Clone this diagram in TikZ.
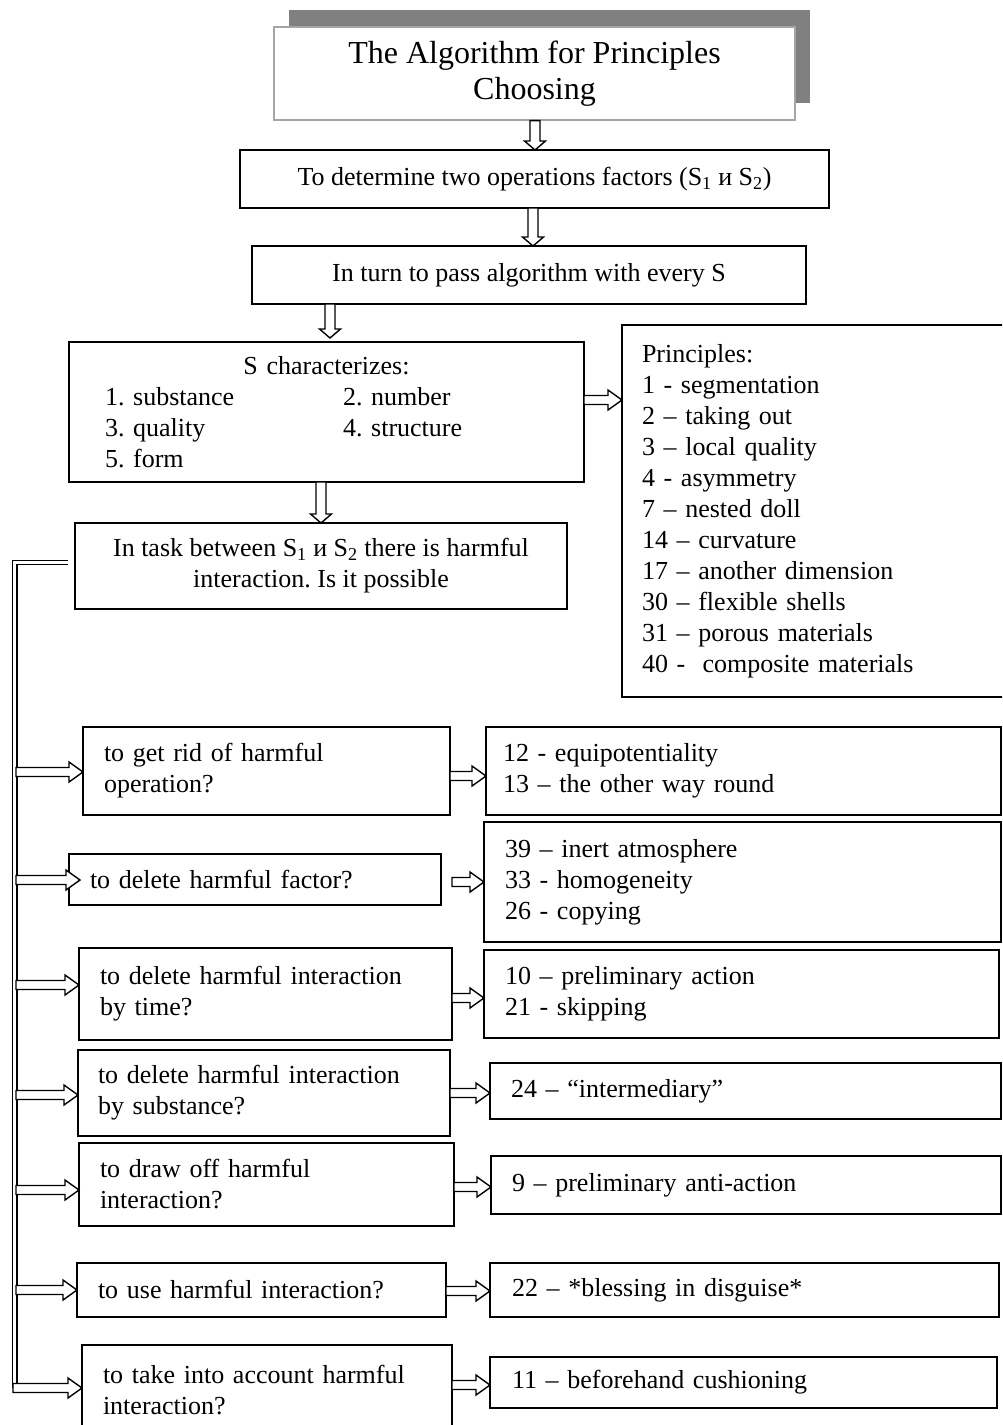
\documentclass[tikz,border=0pt]{standalone}
\usepackage{fontspec}
\setmainfont{Liberation Serif}
\usetikzlibrary{calc}
\frenchspacing
\definecolor{shadowgray}{RGB}{128,128,128}
\definecolor{titleline}{RGB}{165,165,165}
\newcommand\harr[2]{%
  \draw[blockarrow] let \p1=(#1), \p2=(#2) in
   (\x1,\y1+4.5pt) -- (\x2-14pt,\y1+4.5pt) -- (\x2-14pt,\y1+10pt) -- (\x2,\y1)
   -- (\x2-14pt,\y1-10pt) -- (\x2-14pt,\y1-4.5pt) -- (\x1,\y1-4.5pt) -- cycle;}
\newcommand\varr[2]{%
  \draw[blockarrow] let \p1=(#1), \p2=(#2) in
   (\x1-5pt,\y1) -- (\x1-5pt,\y2+9pt) -- (\x1-10.5pt,\y2+9pt) -- (\x1,\y2)
   -- (\x1+10.5pt,\y2+9pt) -- (\x1+5pt,\y2+9pt) -- (\x1+5pt,\y1) -- cycle;}
\begin{document}
\begin{tikzpicture}[x=1pt,y=-1pt,
  box/.style={draw=black, line width=1.5pt, inner ysep=0pt, outer sep=0pt,
    font=\fontsize{26}{31}\selectfont},
  lbox/.style={box, align=left},
  cbox/.style={box, align=center, inner xsep=0pt},
  blockarrow/.style={draw=black, fill=white, line width=1.4pt, line join=miter},
  spine/.style={draw=black, line width=1.3pt, double=white, double distance=2.8pt}]
\useasboundingbox (0,0) rectangle (1002,1425);
\clip (0,0) rectangle (1002,1425);

% title with shadow
\node[fill=shadowgray, inner sep=0pt, minimum width=521pt, minimum height=93pt] (shadow) at (549.5,56.5) {};
\node[draw=titleline, fill=white, line width=1.3pt, inner sep=0pt, align=center,
  minimum width=521pt, minimum height=93pt, font=\fontsize{32}{36}\selectfont] (title) at (534.5,73.5)
  {The Algorithm for Principles\\Choosing};

\node[cbox, minimum width=589pt, minimum height=58pt] (det) at (534.5,179)
  {To determine two operations factors (S\textsubscript{1} и S\textsubscript{2})};
\node[cbox, minimum width=554pt, minimum height=58pt] (pass) at (529,275)
  {In turn to pass algorithm with every S};
\node[lbox, minimum height=140pt, text width=443pt, inner xsep=36pt] (sc) at (326.5,412)
  {\makebox[\linewidth][c]{S characterizes:}\\
   \makebox[238pt][l]{1. substance}2. number\\
   \makebox[238pt][l]{3. quality}4. structure\\
   5. form};
\node[lbox, minimum height=372pt, text width=348pt, inner xsep=20pt] (pr) at (816,511)
  {Principles:\\1 - segmentation\\2 – taking out\\3 – local quality\\4 - asymmetry\\
   7 – nested doll\\14 – curvature\\17 – another dimension\\30 – flexible shells\\
   31 – porous materials\\40 -~ composite materials};
\node[cbox, minimum width=492pt, minimum height=86pt] (task) at (321,566)
  {In task between S\textsubscript{1} и S\textsubscript{2} there is harmful\\interaction. Is it possible};

% questions
\node[lbox, minimum height=88pt, text width=325pt, inner xsep=21pt] (q1) at (266.5,771)
  {to get rid of harmful\\operation?};
\node[lbox, minimum height=51pt, text width=330pt, inner xsep=21pt] (q2) at (255,879.5)
  {to delete harmful factor?};
\node[lbox, minimum height=92pt, text width=331pt, inner xsep=21pt] (q3) at (265.5,994)
  {to delete harmful interaction\\by time?};
\node[lbox, minimum height=86pt, text width=332pt, inner xsep=20pt] (q4) at (264,1093)
  {to delete harmful interaction\\by substance?};
\node[lbox, minimum height=83pt, text width=333pt, inner xsep=21pt] (q5) at (266.5,1184.5)
  {to draw off harmful\\interaction?};
\node[lbox, minimum height=54pt, text width=327pt, inner xsep=21pt] (q6) at (261.5,1290)
  {to use harmful interaction?};
\node[lbox, minimum height=90pt, text width=328pt, inner xsep=21pt] (q7) at (267,1390)
  {to take into account harmful\\interaction?};

% answers
\node[lbox, minimum height=88pt, text width=481pt, inner xsep=17pt] (a1) at (743.5,771)
  {12 - equipotentiality\\13 – the other way round};
\node[lbox, minimum height=120pt, text width=475pt, inner xsep=21pt] (a2) at (742.5,882)
  {39 – inert atmosphere\\33 - homogeneity\\26 - copying};
\node[lbox, minimum height=88pt, text width=473pt, inner xsep=21pt] (a3) at (741.5,994)
  {10 – preliminary action\\21 - skipping};
\node[lbox, minimum height=56pt, text width=469pt, inner xsep=21pt] (a4) at (745.5,1091)
  {24 – “intermediary”};
\node[lbox, minimum height=58pt, text width=468pt, inner xsep=21pt] (a5) at (746,1185)
  {9 – preliminary anti-action};
\node[lbox, minimum height=54pt, text width=465pt, inner xsep=22pt] (a6) at (744.5,1290)
  {22 – *blessing in disguise*};
\node[lbox, minimum height=51pt, text width=463pt, inner xsep=22pt] (a7) at (743.5,1382.5)
  {11 – beforehand cushioning};

% vertical hollow arrows
\coordinate (c1) at (535,0);
\coordinate (c2) at (533,0);
\coordinate (c3) at (330,338);
\coordinate (c4) at (321,0);
\varr{title.south -| c1}{det.north -| c1}
\varr{det.south -| c2}{pass.north -| c2}
\varr{pass.south -| c3}{c3}
\varr{sc.south -| c4}{task.north -| c4}

% S characterizes -> principles
\coordinate (r0) at (0,400);
\harr{sc.east |- r0}{pr.west |- r0}

% left spine (double line)
\coordinate (sp0) at (68,562.5);
\coordinate (sp1) at (14.8,562.5);
\coordinate (sp2) at (14.8,1388);
\draw[spine] (sp0) -- (sp1) -- (sp2);

% spine -> questions
\coordinate (j1) at (16,772);
\coordinate (j2) at (16,880);
\coordinate (j3) at (16,985);
\coordinate (j4) at (16,1095);
\coordinate (j5) at (16,1190);
\coordinate (j6) at (16,1290);
\coordinate (j7) at (13,1388);
\harr{j1}{q1.west |- j1}
\harr{j2}{$(q2.west |- j2)+(11,0)$}
\harr{j3}{q3.west |- j3}
\harr{j4}{q4.west |- j4}
\harr{j5}{q5.west |- j5}
\harr{j6}{q6.west |- j6}
\harr{j7}{q7.west |- j7}

% questions -> answers
\coordinate (r1) at (0,776);
\coordinate (r2) at (0,882);
\coordinate (r3) at (0,998);
\coordinate (r4) at (0,1093);
\coordinate (r5) at (0,1187);
\coordinate (r6) at (0,1291);
\coordinate (r7) at (0,1385);
\harr{q1.east |- r1}{a1.west |- r1}
\harr{$(q2.east |- r2)+(11,0)$}{a2.west |- r2}
\harr{q3.east |- r3}{a3.west |- r3}
\harr{q4.east |- r4}{a4.west |- r4}
\harr{q5.east |- r5}{a5.west |- r5}
\harr{q6.east |- r6}{a6.west |- r6}
\harr{q7.east |- r7}{a7.west |- r7}
\end{tikzpicture}
\end{document}
